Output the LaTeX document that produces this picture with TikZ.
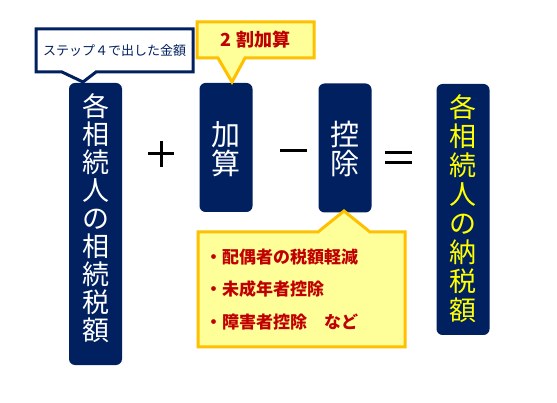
\documentclass[tikz,border=0pt]{standalone}
\usepackage{fontspec}
\setmainfont{Noto Sans CJK JP}
\newfontfamily\jp{Noto Sans CJK JP}
\definecolor{navy}{HTML}{002060}
\definecolor{gold}{HTML}{FFC000}
\definecolor{lemon}{HTML}{FFFF99}
\definecolor{dred}{HTML}{C00000}
\definecolor{hiyellow}{HTML}{FFFF00}
\begin{document}
\begin{tikzpicture}[x=1pt,y=-1pt,
  bar/.style={fill=navy, rounded corners=6pt, inner sep=0pt, minimum width=53pt},
  vtext/.style={inner sep=0pt, align=center},
  leftfont/.style={font=\jp\fontsize{27}{28}\selectfont},
  rightfont/.style={font=\jp\fontsize{27}{29}\selectfont},
  shorttext/.style={font=\jp\fontsize{29}{28.5}\selectfont, text=white},
  yellowcall/.style={fill=lemon, draw=gold, line width=3pt, line join=miter},
  whitecall/.style={fill=white, draw=navy, line width=3pt, line join=miter},
  op/.style={line width=3pt, draw=black}]
\useasboundingbox[fill=white] (0,0) rectangle (557,403);

% bars
\node[bar, minimum height=282pt] (L) at (95.5,224) {};
\node[vtext, leftfont, text=white] (Lt) at (95.5,218)
  {各\\相\\続\\人\\の\\相\\続\\税\\額};
\node[bar, minimum height=129pt] (A) at (226,147.5) {};
\node[vtext, shorttext] (At) at (226,149) {加\\算};
\node[bar, minimum height=129pt] (K) at (345,148) {};
\node[vtext, shorttext] (Kt) at (345,149) {控\\除};
\node[bar, minimum height=251pt] (R) at (463,209.5) {};
\node[vtext, rightfont, text=hiyellow] (Rt) at (463,208.5)
  {各\\相\\続\\人\\の\\納\\税\\額};

% operators
\draw[op] (148,154) -- (174,154) (161,141) -- (161,167);
\draw[op] (280,151) -- (307,151);
\draw[op] (385,153) -- (412,153) (385,163) -- (412,163);

% callout 1
\draw[whitecall] (36,29) -- (193,29) -- (193,72) -- (96,72) -- (83,82) -- (62,72) -- (36,72) -- cycle;
\node[font=\jp\fontsize{13}{15}\selectfont, text=navy] (c1) at (114.5,50.5) {ステップ４で出した金額};

% callout 2
\draw[yellowcall] (197,22) -- (314,22) -- (314,58) -- (245,58) -- (232,82) -- (218,58) -- (197,58) -- cycle;
\node[font=\jp\bfseries\fontsize{18}{20}\selectfont, text=dred] (c2) at (255.5,40) {2 割加算};

% callout 3
\draw[yellowcall] (198,232) -- (318,232) -- (344,211) -- (370,232) -- (405,232) -- (405,347) -- (198,347) -- cycle;
\node[font=\jp\bfseries\fontsize{17}{32.5}\selectfont, text=dred, align=left, anchor=west, inner sep=0pt] (c3) at (205,289.5)
  {・配偶者の税額軽減\\・未成年者控除\\・障害者控除　など};
\end{tikzpicture}
\end{document}
